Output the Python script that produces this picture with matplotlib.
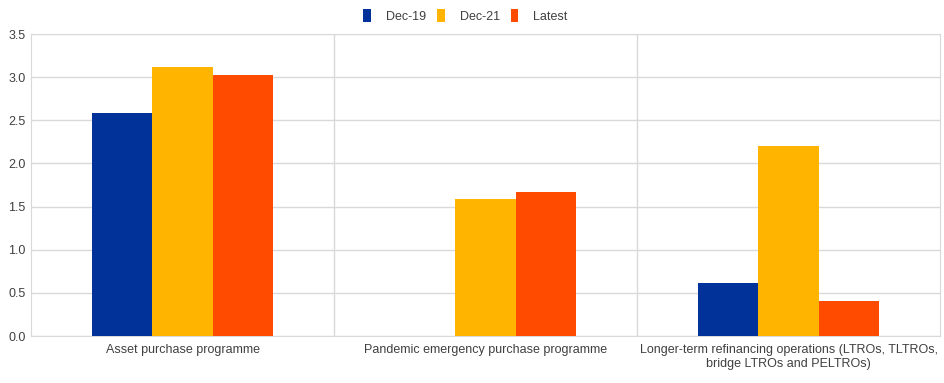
import numpy as np
import matplotlib.pyplot as plt

categories = ["Asset purchase programme",
              "Pandemic emergency purchase programme",
              "Longer-term refinancing operations (LTROs, TLTROs,\nbridge LTROs and PELTROs)"]
series = ["Dec-19", "Dec-21", "Latest"]
dec19 = [2.59, 0.0, 0.61]
dec21 = [3.12, 1.59, 2.20]
latest = [3.03, 1.67, 0.40]
colors = ["#003299", "#FFB400", "#FF4B00"]

plt.rcParams["font.family"] = ["Liberation Sans", "DejaVu Sans"]

fig = plt.figure(figsize=(9.45, 3.83), dpi=100)
ax = fig.add_axes([0.0328, 0.1227, 0.962, 0.7885])

x = np.arange(len(categories))
w = 0.2
for i, (vals, name) in enumerate(zip([dec19, dec21, latest], series)):
    ax.bar(x + (i - 1) * w, vals, w, color=colors[i], label=name, zorder=3)

ax.set_xlim(-0.5, 2.5)
ax.set_ylim(0, 3.5)
ax.set_yticks(np.arange(0, 3.51, 0.5))
ax.set_yticklabels([f"{v:.1f}" for v in np.arange(0, 3.51, 0.5)])
ax.set_xticks(x)
ax.set_xticklabels(categories)
ax.yaxis.grid(True, color="#d9d9d9", linewidth=1, zorder=0)
for b in [0.5, 1.5]:
    ax.axvline(b, color="#d9d9d9", linewidth=1, zorder=0)
for s in ax.spines.values():
    s.set_color("#d9d9d9")
ax.tick_params(axis="both", length=0, labelsize=9, colors="#404040")
ax.tick_params(axis="y", pad=4)
ax.tick_params(axis="x", pad=6)

ax.legend(loc="center", bbox_to_anchor=(0.478, 1.06), ncol=3, frameon=False,
          fontsize=9, handlelength=0.6, handleheight=1.2, columnspacing=0.9,
          handletextpad=1.2, labelcolor="#404040")

fig.savefig("out.png", dpi=100)
